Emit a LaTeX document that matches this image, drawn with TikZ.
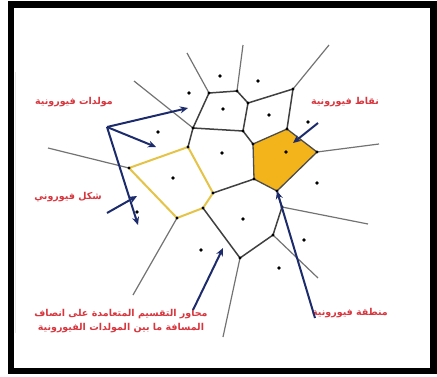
\documentclass[tikz,border=0pt]{standalone}
\usepackage{fontspec}
\newfontfamily\arabicfont[Script=Arabic, BoldFont={DejaVu Sans Bold}]{DejaVu Sans}
\TeXXeTstate=1
\usetikzlibrary{arrows.meta}
\definecolor{labelred}{HTML}{D8353D}
\definecolor{arrowblue}{HTML}{1C2B6C}
\definecolor{cellgold}{HTML}{F2B41A}
\definecolor{celledge}{HTML}{E5C347}

\begin{document}
\begin{tikzpicture}[
    x=1pt, y=-1pt,
    cellline/.style={draw=black!75, line width=1.5pt, line join=round},
    rayline/.style={draw=black!55, line width=1.2pt},
    shapecell/.style={draw=celledge, line width=2pt, line join=round},
    regioncell/.style={fill=cellgold, draw=black!70, line width=1.3pt, line join=round},
    seed/.style={circle, fill=black, inner sep=0pt, minimum size=3.6pt},
    pointer/.style={-{Stealth[length=8pt, width=7pt]}, draw=arrowblue, line width=2pt},
    tag/.style={text=labelred, font=\arabicfont\bfseries\fontsize{9.5}{14}\selectfont, align=center}
  ]
    \useasboundingbox (0,0) rectangle (437,376);

    % Frame
    \draw[line width=6.5pt] (11,4.5) rectangle (433.5,371);
    \draw[gray!20, line width=0.8pt] (15,72) -- (15,333);

    % Voronoi vertices
    \coordinate (v1) at (209,93);
    \coordinate (v2) at (237,91);
    \coordinate (v3) at (248,103);
    \coordinate (v4) at (243,131);
    \coordinate (v5) at (193,128);
    \coordinate (v6) at (293,89);
    \coordinate (v7) at (287,129);
    \coordinate (v8) at (253,144);
    \coordinate (v9) at (317,152);
    \coordinate (v10) at (277,191);
    \coordinate (v11) at (254,179);
    \coordinate (v12) at (213,193);
    \coordinate (v13) at (188,147);
    \coordinate (v14) at (129,168);
    \coordinate (v15) at (177,218);
    \coordinate (v16) at (203,208);
    \coordinate (v17) at (282,207);
    \coordinate (v18) at (273,235);
    \coordinate (v19) at (240,258);

    % Open ends of the outer edges
    \coordinate (o1) at (187,53);
    \coordinate (o2) at (243,45);
    \coordinate (o3) at (329,45);
    \coordinate (o4) at (134,81);
    \coordinate (o5) at (48,148);
    \coordinate (o6) at (379,144);
    \coordinate (o7) at (133,295);
    \coordinate (o8) at (223,337);
    \coordinate (o9) at (368,224);
    \coordinate (o10) at (318,278);

    % Outer edges
    \draw[rayline] (v1) -- (o1);
    \draw[rayline] (v2) -- (o2);
    \draw[rayline] (v6) -- (o3);
    \draw[rayline] (v5) -- (o4);
    \draw[rayline] (v14) -- (o5);
    \draw[rayline] (v9) -- (o6);
    \draw[rayline] (v15) -- (o7);
    \draw[rayline] (v19) -- (o8);
    \draw[rayline] (v17) -- (o9);
    \draw[rayline] (v18) -- (o10);

    % Voronoi region (filled)
    \draw[regioncell] (v8) -- (v7) -- (v9) -- (v10) -- (v11) -- cycle;

    % Inner edges
    \draw[cellline] (v1) -- (v2) -- (v3) -- (v4) -- (v5) -- cycle;
    \draw[cellline] (v3) -- (v6) -- (v7);
    \draw[cellline] (v4) -- (v8);
    \draw[cellline] (v5) -- (v13);
    \draw[cellline] (v12) -- (v11);
    \draw[cellline] (v16) -- (v19) -- (v18) -- (v17) -- (v10);

    % Voronoi shape (outlined)
    \draw[shapecell] (v13) -- (v14) -- (v15) -- (v16) -- (v12) -- cycle;

    % Dots on the vertices
    \foreach \v in {v1,v2,v3,v4,v5,v6,v7,v8,v9,v10,v11,v12,v13,v14,v15,v16,v17,v18,v19}
      \fill (\v) circle (1.6pt);

    % Generators
    \node[seed] (g1) at (220,76) {};
    \node[seed] (g2) at (258,81) {};
    \node[seed] (g3) at (189,93) {};
    \node[seed] (g4) at (223,109) {};
    \node[seed] (g5) at (269,115) {};
    \node[seed] (g6) at (308,122) {};
    \node[seed] (g7) at (158,132) {};
    \node[seed] (g8) at (222,153) {};
    \node[seed] (g9) at (286,152) {};
    \node[seed] (g10) at (173,178) {};
    \node[seed] (g11) at (317,183) {};
    \node[seed] (g12) at (137,212) {};
    \node[seed] (g13) at (243,219) {};
    \node[seed] (g14) at (304,240) {};
    \node[seed] (g15) at (201,250) {};
    \node[seed] (g16) at (279,268) {};

    % Labels
    \node[tag] (gens) at (74,102) {\beginR مولدات فيورونية\endR};
    \node[tag] (pts) at (345,102) {\beginR نقاط فيورونية\endR};
    \node[tag] (shape) at (68,197) {\beginR شكل فيوروني\endR};
    \node[tag] (region) at (350,313) {\beginR منطقة فيورونية\endR};
    \node[tag] (axes) at (121,321) {\beginR محاور التقسيم المتعامدة على انصاف\endR\\
      \beginR المسافة ما بين المولدات الفيورونية\endR};

    % Arrow tails and tips
    \coordinate (fork) at (107,127);
    \coordinate (t1) at (188,108);
    \coordinate (t2) at (156,147);
    \coordinate (t3) at (138,225);
    \coordinate (s4) at (107,213);
    \coordinate (t4) at (137,196);
    \coordinate (s5) at (318,123);
    \coordinate (t5) at (293,143);
    \coordinate (s6) at (315,318);
    \coordinate (s7) at (193,310);
    \coordinate (t7) at (223,248);

    % Arrows
    \draw[pointer] (fork) -- (t1);
    \draw[pointer] (fork) -- (t2);
    \draw[pointer] (fork) -- (t3);
    \draw[pointer] (s4) -- (t4);
    \draw[pointer] (s5) -- (t5);
    \draw[pointer] (s6) -- (v10);
    \draw[pointer] (s7) -- (t7);
  \end{tikzpicture}
\end{document}
